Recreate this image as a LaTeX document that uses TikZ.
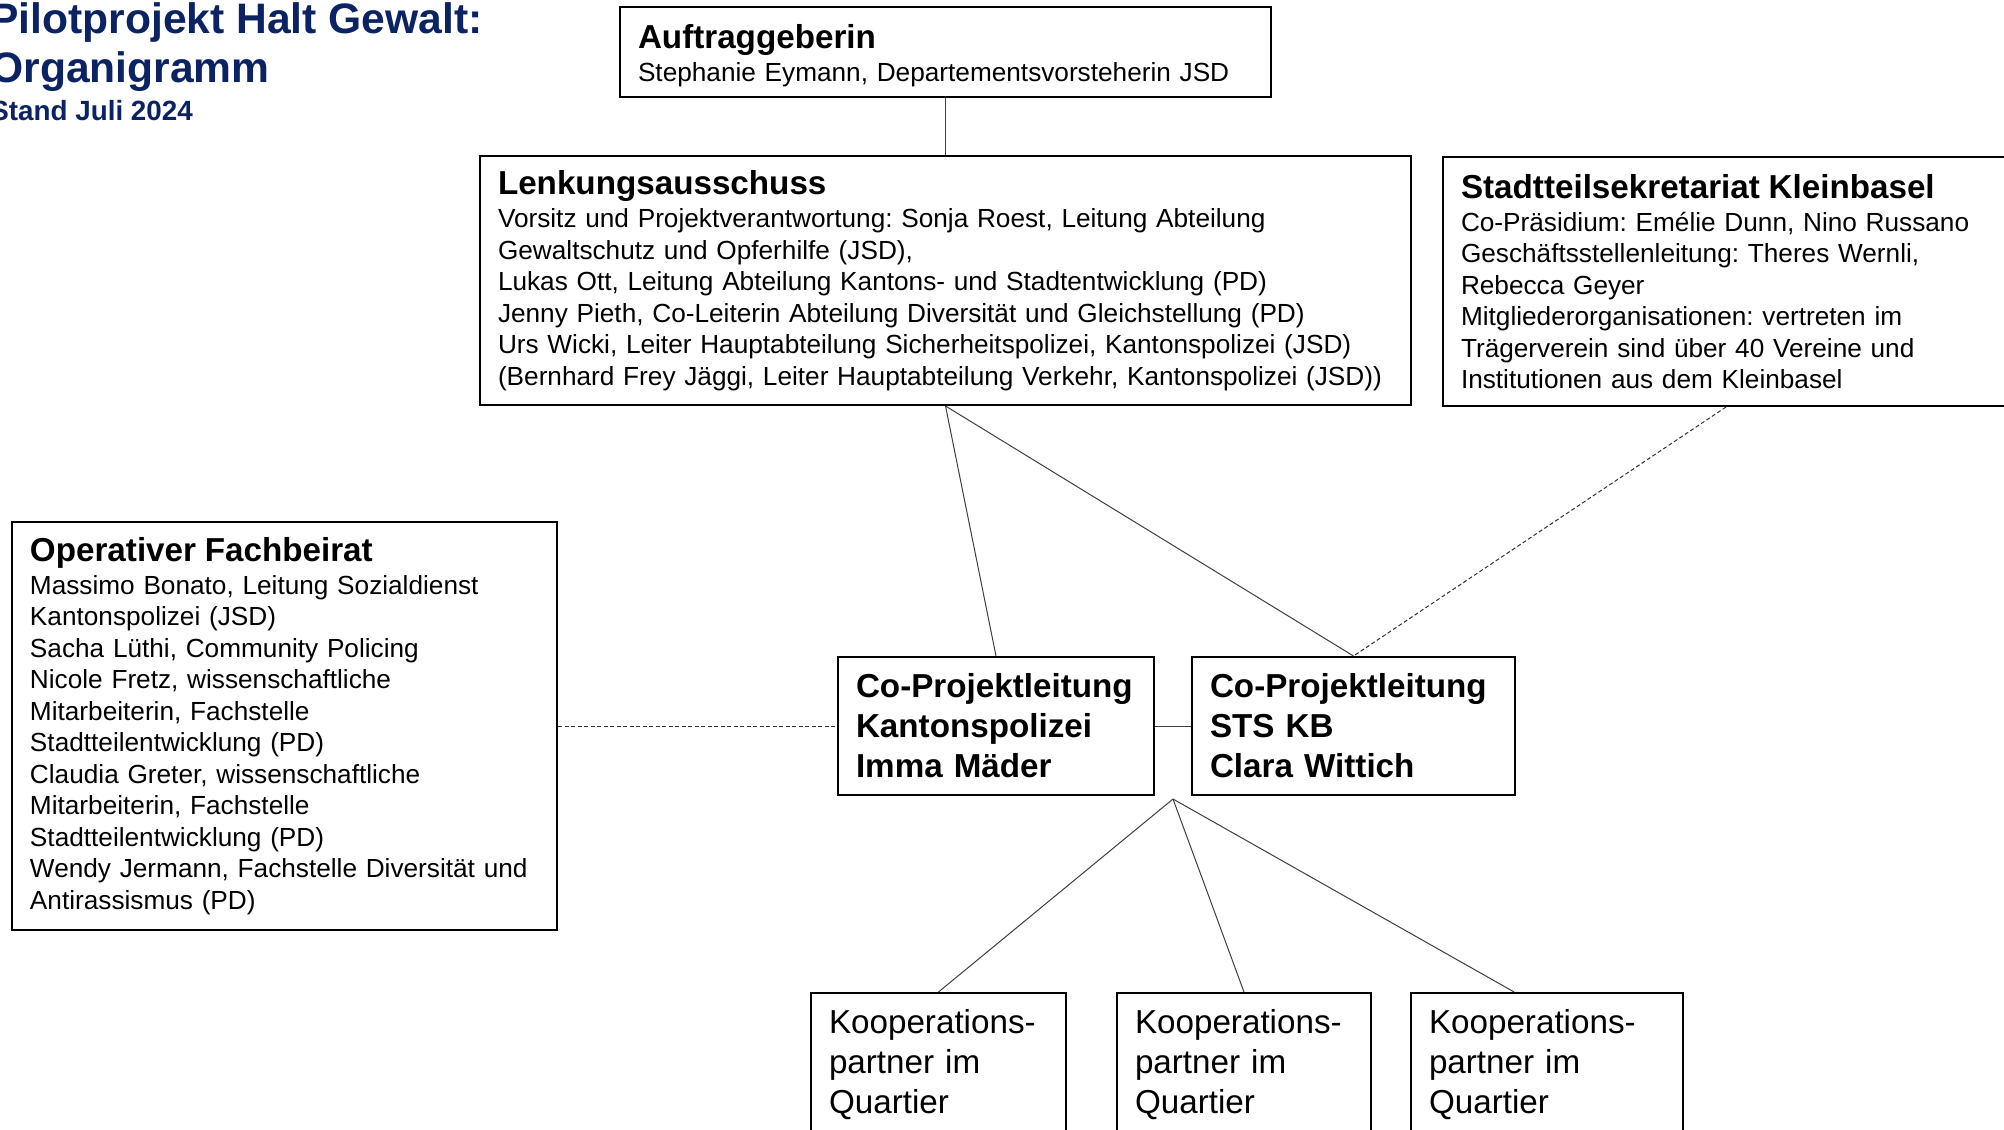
\documentclass[tikz,border=0pt]{standalone}
\usepackage{fontspec}
\setmainfont{Liberation Sans}
\usetikzlibrary{calc}
\frenchspacing
\definecolor{titleblue}{RGB}{11,35,99}
\newcommand{\orghead}{\fontsize{16.6}{20}\selectfont\bfseries}
\newcommand{\orgbody}{\fontsize{13.1}{15.75}\selectfont}
\newcommand{\orgtitle}[1]{{\orghead #1\par}\vspace{0.75pt}}
\begin{document}
\begin{tikzpicture}
[x=0.5pt,y=-0.5pt,%
  orgbox/.style={shape=rectangle,draw,line width=1pt,anchor=north west,align=left,inner xsep=9pt,inner ysep=0pt,font=\orgbody},%
  titletext/.style={anchor=base west,inner sep=0pt,text=titleblue},%
  orgline/.style={-,draw=black!75,line width=0.5pt},%
  orgdash/.style={orgline,draw=black!80,dash pattern=on 2pt off 1.25pt}]
\fill[white] (0,0) rectangle (2004,1130);
\useasboundingbox (0,0) rectangle (2004,1130);
%% title
\node (titel) at (-10,33) [titletext,font=\fontsize{21.3}{25}\selectfont\bfseries] {Pilotprojekt Halt Gewalt:};
\node (organi) at (-10,82) [titletext,font=\fontsize{21.3}{25}\selectfont\bfseries] {Organigramm};
\node (stand) at (-10,120) [titletext,font=\fontsize{13.9}{16}\selectfont\bfseries] {Stand Juli 2024};
%% boxes
\node (auftrag) at (619,6) [orgbox,text width=307.5pt,minimum height=45pt]
  {\orgtitle{\rule{0pt}{16pt}Auftraggeberin}Stephanie Eymann, Departementsvorsteherin JSD};
\node (lenkung) at (479,155) [orgbox,text width=447.5pt,minimum height=124.5pt]
  {\orgtitle{Lenkungsausschuss}Vorsitz und Projektverantwortung: Sonja Roest, Leitung Abteilung\\
   Gewaltschutz und Opferhilfe (JSD),\\
   Lukas Ott, Leitung Abteilung Kantons- und Stadtentwicklung (PD)\\
   Jenny Pieth, Co-Leiterin Abteilung Diversität und Gleichstellung (PD)\\
   Urs Wicki, Leiter Hauptabteilung Sicherheitspolizei, Kantonspolizei (JSD)\\
   (Bernhard Frey Jäggi, Leiter Hauptabteilung Verkehr, Kantonspolizei (JSD))};
\node (stadtteil) at (1442,156) [orgbox,text width=265pt,minimum height=124.5pt]
  {\orgtitle{Stadtteilsekretariat Kleinbasel}Co-Präsidium: Emélie Dunn, Nino Russano\\
   Geschäftsstellenleitung: Theres Wernli,\\
   Rebecca Geyer\\
   Mitgliederorganisationen: vertreten im\\
   Trägerverein sind über 40 Vereine und\\
   Institutionen aus dem Kleinbasel};
\node (fach) at (11,521) [orgbox,text width=254.5pt,minimum height=204pt]
  {\orgtitle{Operativer Fachbeirat}Massimo Bonato, Leitung Sozialdienst\\
   Kantonspolizei (JSD)\\
   Sacha Lüthi, Community Policing\\
   Nicole Fretz, wissenschaftliche\\
   Mitarbeiterin, Fachstelle\\
   Stadtteilentwicklung (PD)\\
   Claudia Greter, wissenschaftliche\\
   Mitarbeiterin, Fachstelle\\
   Stadtteilentwicklung (PD)\\
   Wendy Jermann, Fachstelle Diversität und\\
   Antirassismus (PD)};
\node (kapo) at (837,656) [orgbox,font=\orghead,text width=140pt,minimum height=69pt]
  {Co-Projektleitung\\Kantonspolizei\\Imma Mäder};
\node (sts) at (1191,656) [orgbox,font=\orghead,text width=143.5pt,minimum height=69pt]
  {Co-Projektleitung\\STS KB\\Clara Wittich};
\foreach \nodename/\x/\w in {k1/810/109.5pt, k2/1116/109pt, k3/1410/118pt} {
  \node (\nodename) at (\x,992) [orgbox,font=\fontsize{16.6}{20}\selectfont,text width=\w,minimum height=72pt]
    {Kooperations-\\partner im\\Quartier};
}
%% lines
\coordinate (split) at ($(kapo.south east)!0.5!(sts.south west)+(0,3)$);
\coordinate (k3top) at ($(k3.north west)!0.38!(k3.north east)$);
\draw[orgline] (auftrag.south) -- (lenkung.north);
\foreach \endnode in {kapo.north, sts.north} {
  \draw[orgline] (lenkung.south) -- (\endnode);
}
\draw[orgline] (kapo.east) -- (sts.west);
\draw[orgdash] (stadtteil.south) -- (sts.north);
\draw[orgdash] (fach.east) -- (kapo.west);
\foreach \endnode in {k1.north, k2.north, k3top} {
  \draw[orgline] (split) -- (\endnode);
}
\end{tikzpicture}
\end{document}
